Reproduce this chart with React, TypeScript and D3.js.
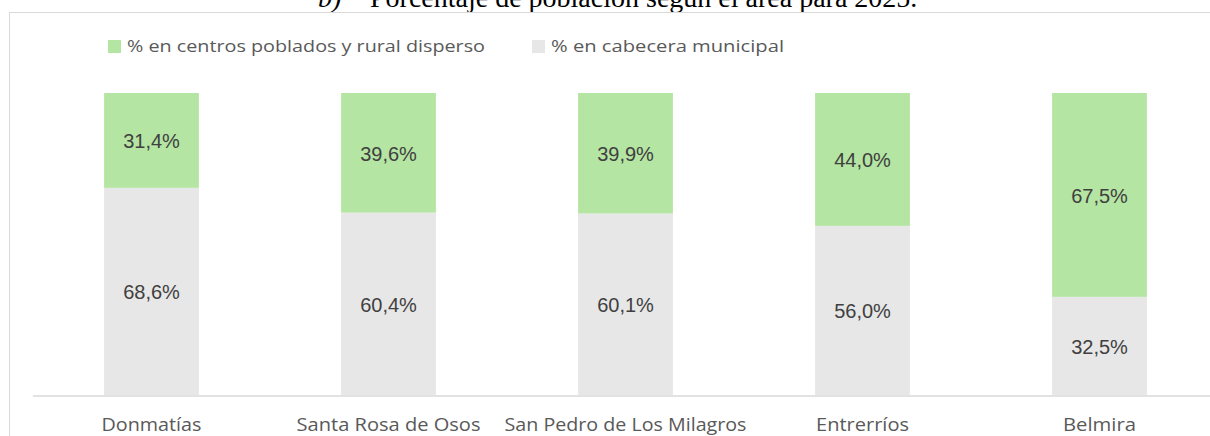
import React from "react";
import * as d3 from "d3";

const categories = ["Donmatías", "Santa Rosa de Osos", "San Pedro de Los Milagros", "Entrerríos", "Belmira"];
const ruralValues = [31.4, 39.6, 39.9, 44.0, 67.5];
const urbanValues = [68.6, 60.4, 60.1, 56.0, 32.5];
const seriesNames = ["% en centros poblados y rural disperso", "% en cabecera municipal"];
const colors = ["#b4e5a2", "#e7e7e7"];

const W = 1210;
const H = 436;

export default function App() {
  const x = d3.scaleBand<string>().domain(categories).range([33, 1218]).paddingInner(0.6).paddingOuter(0.3);
  const y = d3.scaleLinear().domain([0, 100]).range([395, 93]);
  const fmt = (v: number) => d3.format(".1f")(v).replace(".", ",") + "%";

  const labelFont = "'Open Sans', 'Liberation Sans', sans-serif";
  const dataFont = "'Liberation Sans', Arial, sans-serif";
  const catWidths = [100, 184, 242, 93, 73];

  return (
    <svg width={W} height={H} style={{ position: "absolute", left: 0, top: 0, background: "#fff", overflow: "hidden" }}>
      <text x={318} y={7} fontFamily="'Liberation Serif', 'Times New Roman', serif" fontSize={28} fill="#000">
        <tspan fontStyle="italic">b)</tspan>
        <tspan x={370}>Porcentaje de población según el área para 2025.</tspan>
      </text>
      <rect x={9.5} y={12.5} width={W + 40} height={H + 40} fill="none" stroke="#d9d9d9" strokeWidth={1} />

      {/* legend */}
      <rect x={108} y={40} width={13} height={13} fill={colors[0]} />
      <text x={127} y={52} fontFamily={labelFont} fontSize={17} fill="#595959" textLength={358} lengthAdjust="spacingAndGlyphs">
        {seriesNames[0]}
      </text>
      <rect x={532} y={40} width={13} height={13} fill={colors[1]} />
      <text x={551} y={52} fontFamily={labelFont} fontSize={17} fill="#595959" textLength={233} lengthAdjust="spacingAndGlyphs">
        {seriesNames[1]}
      </text>

      {categories.map((c, i) => {
        const x0 = x(c)!;
        const bw = x.bandwidth();
        const cx = x0 + bw / 2;
        const u = urbanValues[i];
        const r = ruralValues[i];
        return (
          <g key={c}>
            <rect x={x0} y={y(u)} width={bw} height={y(0) - y(u)} fill={colors[1]} />
            <rect x={x0} y={y(u + r)} width={bw} height={y(u) - y(u + r)} fill={colors[0]} />
            <text x={cx} y={(y(0) + y(u)) / 2} dy="0.4em" textAnchor="middle" fontFamily={dataFont} fontSize={20} fill="#404040">
              {fmt(u)}
            </text>
            <text x={cx} y={(y(u) + y(u + r)) / 2} dy="0.4em" textAnchor="middle" fontFamily={dataFont} fontSize={20} fill="#404040">
              {fmt(r)}
            </text>
            <text x={cx} y={431} textAnchor="middle" fontFamily={labelFont} fontSize={19} fill="#595959" textLength={catWidths[i]} lengthAdjust="spacingAndGlyphs">
              {c}
            </text>
          </g>
        );
      })}
      <line x1={33} x2={W} y1={396} y2={396} stroke="#d9d9d9" strokeWidth={1.5} />
    </svg>
  );
}
